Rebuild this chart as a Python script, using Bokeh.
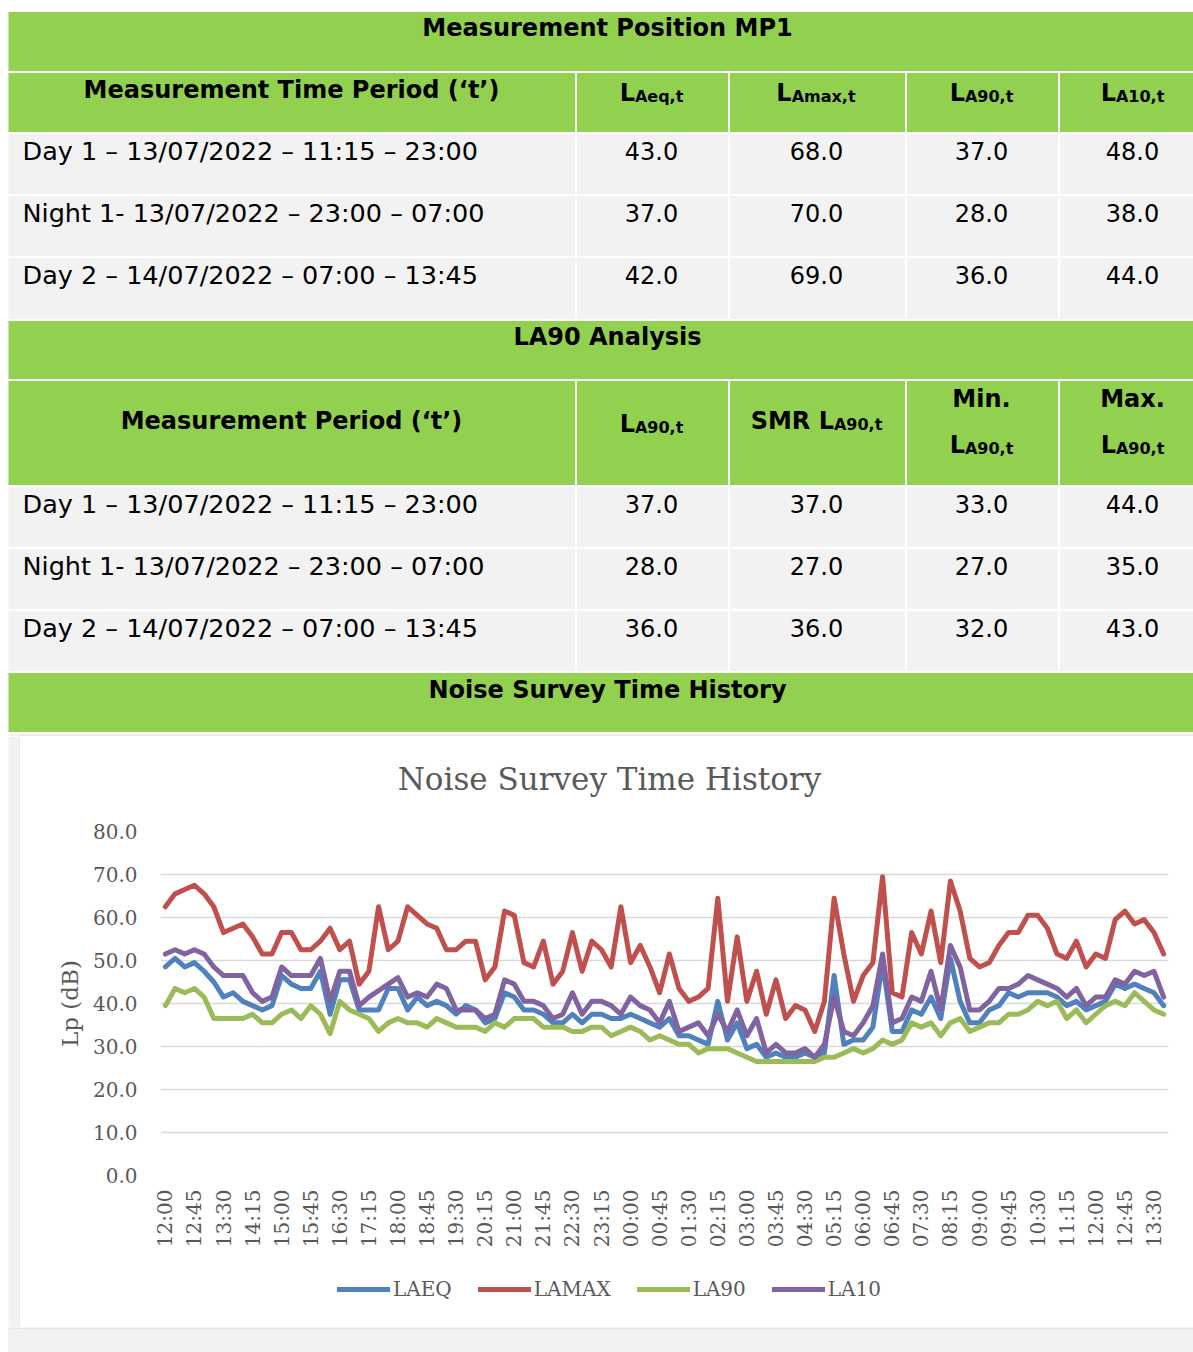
import math
from bokeh.plotting import figure
from bokeh.models import Range1d, FixedTicker, Legend, LegendItem, ColumnDataSource, NumeralTickFormatter
from bokeh.layouts import column, row
from bokeh.embed import file_html
from bokeh.resources import INLINE
from bokeh.core.properties import value

# ---------------- data ----------------
periods = ["Day 1 \u2013 13/07/2022 \u2013 11:15 \u2013 23:00",
           "Night 1- 13/07/2022 \u2013 23:00 \u2013 07:00",
           "Day 2 \u2013 14/07/2022 \u2013 07:00 \u2013 13:45"]
laeq_t = [43.0, 37.0, 42.0]
lamax_t = [68.0, 70.0, 69.0]
la90_t = [37.0, 28.0, 36.0]
la10_t = [48.0, 38.0, 44.0]

an_la90 = [37.0, 28.0, 36.0]
an_smr = [37.0, 27.0, 36.0]
an_min = [33.0, 27.0, 32.0]
an_max = [44.0, 35.0, 43.0]

tick_labels = ["12:00", "12:45", "13:30", "14:15", "15:00", "15:45", "16:30", "17:15", "18:00",
               "18:45", "19:30", "20:15", "21:00", "21:45", "22:30", "23:15", "00:00", "00:45",
               "01:30", "02:15", "03:00", "03:45", "04:30", "05:15", "06:00", "06:45", "07:30",
               "08:15", "09:00", "09:45", "10:30", "11:15", "12:00", "12:45", "13:30"]

LAEQ = [48.5, 50.5, 48.5, 49.5, 47.5, 45.0, 41.5, 42.5, 40.5, 39.5,
        38.5, 39.5, 46.5, 44.5, 43.5, 43.5, 47.5, 37.5, 45.5, 45.5,
        38.5, 38.5, 38.5, 43.5, 43.5, 38.5, 41.5, 39.5, 40.5, 39.5,
        37.5, 39.5, 38.5, 35.5, 36.5, 42.5, 41.5, 38.5, 38.5, 37.5,
        35.5, 35.5, 37.5, 35.5, 37.5, 37.5, 36.5, 36.5, 37.5, 36.5,
        35.5, 34.5, 36.5, 32.5, 32.5, 31.5, 30.5, 40.5, 31.5, 35.5,
        29.5, 30.5, 27.5, 28.5, 27.5, 27.5, 28.5, 27.5, 28.5, 46.5,
        30.5, 31.5, 31.5, 34.5, 49.5, 33.5, 33.5, 38.5, 37.5, 41.5,
        36.5, 50.5, 40.5, 35.5, 35.5, 38.5, 39.5, 42.5, 41.5, 42.5,
        42.5, 42.5, 41.5, 39.5, 40.5, 38.5, 39.5, 40.5, 44.5, 43.5,
        44.5, 43.5, 42.5, 39.5]

LAMAX = [62.5, 65.5, 66.5, 67.5, 65.5, 62.5, 56.5, 57.5, 58.5, 55.5,
         51.5, 51.5, 56.5, 56.5, 52.5, 52.5, 54.5, 57.5, 52.5, 54.5,
         44.5, 47.5, 62.5, 52.5, 54.5, 62.5, 60.5, 58.5, 57.5, 52.5,
         52.5, 54.5, 54.5, 45.5, 48.5, 61.5, 60.5, 49.5, 48.5, 54.5,
         44.5, 47.5, 56.5, 47.5, 54.5, 52.5, 48.5, 62.5, 49.5, 53.5,
         48.5, 42.5, 51.5, 43.5, 40.5, 41.5, 43.5, 64.5, 40.5, 55.5,
         40.5, 47.5, 37.5, 45.5, 36.5, 39.5, 38.5, 33.5, 40.5, 64.5,
         51.5, 40.5, 46.5, 49.5, 69.5, 42.5, 41.5, 56.5, 51.5, 61.5,
         49.5, 68.5, 61.5, 50.5, 48.5, 49.5, 53.5, 56.5, 56.5, 60.5,
         60.5, 57.5, 51.5, 50.5, 54.5, 48.5, 51.5, 50.5, 59.5, 61.5,
         58.5, 59.5, 56.5, 51.5]

LA90 = [39.5, 43.5, 42.5, 43.5, 41.5, 36.5, 36.5, 36.5, 36.5, 37.5,
        35.5, 35.5, 37.5, 38.5, 36.5, 39.5, 37.5, 33.0, 40.5, 38.5,
        37.5, 36.5, 33.5, 35.5, 36.5, 35.5, 35.5, 34.5, 36.5, 35.5,
        34.5, 34.5, 34.5, 33.5, 35.5, 34.5, 36.5, 36.5, 36.5, 34.5,
        34.5, 34.5, 33.5, 33.5, 34.5, 34.5, 32.5, 33.5, 34.5, 33.5,
        31.5, 32.5, 31.5, 30.5, 30.5, 28.5, 29.5, 29.5, 29.5, 28.5,
        27.5, 26.5, 26.5, 26.5, 26.5, 26.5, 26.5, 26.5, 27.5, 27.5,
        28.5, 29.5, 28.5, 29.5, 31.5, 30.5, 31.5, 35.5, 34.5, 35.5,
        32.5, 35.5, 36.5, 33.5, 34.5, 35.5, 35.5, 37.5, 37.5, 38.5,
        40.5, 39.5, 40.5, 36.5, 38.5, 35.5, 37.5, 39.5, 40.5, 39.5,
        42.5, 40.5, 38.5, 37.5]

LA10 = [51.5, 52.5, 51.5, 52.5, 51.5, 48.5, 46.5, 46.5, 46.5, 42.5,
        40.5, 41.5, 48.5, 46.5, 46.5, 46.5, 50.5, 40.5, 47.5, 47.5,
        39.5, 41.5, 43.0, 44.5, 46.0, 41.5, 42.5, 41.5, 44.5, 43.5,
        38.5, 38.5, 38.5, 36.5, 37.5, 45.5, 44.5, 40.5, 40.5, 39.5,
        36.5, 37.5, 42.5, 37.5, 40.5, 40.5, 39.5, 37.5, 41.5, 39.5,
        38.5, 35.5, 40.5, 33.5, 34.5, 35.5, 32.5, 37.5, 33.5, 38.5,
        32.5, 36.5, 28.5, 30.5, 28.5, 28.5, 29.5, 27.5, 30.5, 41.5,
        33.5, 32.5, 35.5, 39.5, 51.5, 35.5, 36.5, 41.5, 40.5, 47.5,
        38.5, 53.5, 48.5, 38.5, 38.5, 40.5, 43.5, 43.5, 44.5, 46.5,
        45.5, 44.5, 43.5, 41.5, 43.5, 39.5, 41.5, 41.5, 45.5, 44.5,
        47.5, 46.5, 47.5, 41.5]

series_names = ["LAEQ", "LAMAX", "LA90", "LA10"]
chart_title = "Noise Survey Time History"

# ---------------- styling ----------------
GREEN = "#92D050"
GRAY = "#F2F2F2"
EDGE = "#D9D9D9"
TXT = "#595959"
SANS = "DejaVu Sans"
SERIF = "DejaVu Serif"
COLORS = ["#4F81BD", "#C0504D", "#9BBB59", "#8064A2"]
PW = 1193

# ---------------- tables figure ----------------
T = figure(width=PW, height=736, x_range=Range1d(0, PW), y_range=Range1d(736, 0),
           output_backend="svg", toolbar_location=None, min_border=0,
           x_axis_location=None, y_axis_location=None,
           background_fill_color="white", border_fill_color="white", outline_line_color=None)
T.grid.visible = False

cols = [(8, 574.5), (576.5, 727.5), (729.5, 904.5), (906.5, 1057.5), (1059.5, PW)]
title_rows = [(11.5, 70.5), (320.5, 378.5), (672.5, 731.5)]
head_rows = [(72.5, 131.5), (380.5, 484.5)]
data_rows = [(133.5, 193.5), (195.5, 255.5), (257.5, 318.5),
             (486.5, 546.5), (548.5, 608.5), (610.5, 670.5)]

L, R, TP, BT, C = [], [], [], [], []
for (t, b) in title_rows:
    L.append(8); R.append(PW); TP.append(t); BT.append(b); C.append(GREEN)
for (t, b) in head_rows:
    for (l, r) in cols:
        L.append(l); R.append(r); TP.append(t); BT.append(b); C.append(GREEN)
for (t, b) in data_rows:
    for (l, r) in cols:
        L.append(l); R.append(r); TP.append(t); BT.append(b); C.append(GRAY)
# top of the grey chart frame
L += [8, 20, 8]; R += [PW, PW, 20]; TP += [733, 735, 735]; BT += [736, 736, 736]
C += [GRAY, EDGE, GRAY]
T.quad(left=L, right=R, top=TP, bottom=BT, fill_color=C, line_color=None)

# bold centred headings (y = visual centre of capitals)
bx, by, bt = [], [], []
for txt, x, y in [("Measurement Position MP1", 607, 27),
                  ("Measurement Time Period (\u2018t\u2019)", 291, 89),
                  ("LA90 Analysis", 607, 336),
                  ("Measurement Period (\u2018t\u2019)", 291, 420),
                  ("Min.", 981, 398), ("Max.", 1132, 398),
                  ("Noise Survey Time History", 607, 689)]:
    bx.append(x); by.append(y); bt.append(txt)
T.text(x=bx, y=by, text=bt, text_align="center", text_baseline="alphabetic",
       text_font=value(SANS), text_font_style="bold", text_font_size="24px", text_color="black")

# L-subscript headings
BW = {'L': .637, 'A': .774, 'e': .678, 'q': .716, ',': .380, 't': .478, 'm': 1.042,
      'a': .675, 'x': .712, '9': .696, '0': .696, '1': .696, 'S': .720, 'M': .995,
      'R': .770, ' ': .348}
mx, my, mt, sx, sy, st = [], [], [], [], [], []
for cx, base, main, sub in [(651, 92, "L", "Aeq,t"), (816, 92, "L", "Amax,t"),
                            (981, 92, "L", "A90,t"), (1132, 92, "L", "A10,t"),
                            (651, 423, "L", "A90,t"), (816, 420, "SMR L", "A90,t"),
                            (981, 444, "L", "A90,t"), (1132, 444, "L", "A90,t")]:
    wm = sum(BW.get(c, .7) for c in main) * 24
    ws = sum(BW.get(c, .7) for c in sub) * 16
    x0 = cx - (wm + ws) / 2
    mx.append(x0); my.append(base); mt.append(main)
    sx.append(x0 + wm); sy.append(base + 4); st.append(sub)
T.text(x=mx, y=my, text=mt, text_align="left", text_baseline="alphabetic",
       text_font=value(SANS), text_font_style="bold", text_font_size="24px", text_color="black")
T.text(x=sx, y=sy, text=st, text_align="left", text_baseline="alphabetic",
       text_font=value(SANS), text_font_style="bold", text_font_size="16px", text_color="black")

# data cells
base1 = [150, 212, 274]
base2 = [503, 565, 627]
T.text(x=[22] * 6, y=base1 + base2, text=periods + periods, text_align="left",
       text_baseline="alphabetic", text_font=value(SANS), text_font_size="25.5px", text_color="black")
vx, vy, vt = [], [], []
centers = [651, 816, 981, 1132]
for bases, cols_vals in [(base1, [laeq_t, lamax_t, la90_t, la10_t]),
                         (base2, [an_la90, an_smr, an_min, an_max])]:
    for ci, vals in enumerate(cols_vals):
        for ri, v in enumerate(vals):
            vx.append(centers[ci]); vy.append(bases[ri]); vt.append(f"{v:.1f}")
T.text(x=vx, y=vy, text=vt, text_align="center", text_baseline="alphabetic",
       text_font=value(SANS), text_font_size="24px", text_color="black")

# ---------------- chart title strip (frame aligned with the chart's) ----------------
TH = 85
TT = figure(width=PW - 20, height=TH, x_range=Range1d(0, 1008), y_range=Range1d(TH, 0),
            output_backend="svg", toolbar_location=None, min_border=0,
            x_axis_location=None, y_axis_location=None, outline_line_color=None,
            background_fill_color="white", border_fill_color="white")
TT.grid.visible = False
TT.text(x=[449], y=[42], text=[chart_title], text_align="center", text_baseline="alphabetic",
        text_font=value(SERIF), text_font_size="31px", text_color=TXT)

# ---------------- chart ----------------
n = len(LAEQ)
src = ColumnDataSource(dict(x=list(range(n)), laeq=LAEQ, lamax=LAMAX, la90=LA90, la10=LA10))

CH = 434
P = figure(width=PW - 20, height=CH, x_range=Range1d(-0.5, n - 0.5), y_range=Range1d(0, 80),
           output_backend="svg", toolbar_location=None,
           min_border_left=140, min_border_right=25, min_border_top=10, min_border_bottom=80,
           background_fill_color="white", border_fill_color="white", outline_line_color=None)

P.xgrid.visible = False
P.ygrid.grid_line_color = EDGE
P.ygrid.grid_line_width = 1.5

P.yaxis.ticker = FixedTicker(ticks=[0, 10, 20, 30, 40, 50, 60, 70, 80])
P.yaxis.formatter = NumeralTickFormatter(format="0.0")
P.yaxis.axis_label = "Lp (dB)"
P.yaxis.axis_label_text_font = SERIF
P.yaxis.axis_label_text_font_size = "23px"
P.yaxis.axis_label_text_font_style = "normal"
P.yaxis.axis_label_text_color = TXT
P.yaxis.axis_label_standoff = 7
P.yaxis.major_label_standoff = 17

tick_pos = list(range(0, n, 3))
P.xaxis.ticker = FixedTicker(ticks=tick_pos)
P.xaxis.major_label_overrides = {p: lab for p, lab in zip(tick_pos, tick_labels)}
P.xaxis.major_label_orientation = math.pi / 2
P.xaxis.major_label_standoff = 8

for ax in (P.xaxis[0], P.yaxis[0]):
    ax.axis_line_color = None
    ax.major_tick_line_color = None
    ax.minor_tick_line_color = None
    ax.major_label_text_font = SERIF
    ax.major_label_text_font_size = "20px"
    ax.major_label_text_color = TXT

for key, col in zip(["laeq", "lamax", "la90", "la10"], COLORS):
    P.line(x="x", y=key, source=src, line_color=col, line_width=5,
           line_join="round", line_cap="round")

# legend strip below the chart (inside the same white box); its frame is aligned with P's
LH = 72
LG = figure(width=PW - 20, height=LH, x_range=Range1d(0, 1), y_range=Range1d(0, 1),
            output_backend="svg", toolbar_location=None, min_border=0,
            x_axis_location=None, y_axis_location=None, outline_line_color=None,
            background_fill_color="white", border_fill_color="white")
LG.grid.visible = False
items = []
for lab, col in zip(series_names, COLORS):
    # proxy renderers (kept outside the visible range) that give the legend its swatches
    r = LG.line(x=[-2, -3], y=[-2, -3], line_color=col, line_width=5, line_cap="round")
    items.append(LegendItem(label=lab, renderers=[r]))
leg = Legend(items=items, orientation="horizontal", location=(177, 26),
             glyph_width=53, glyph_height=20, label_standoff=3, spacing=26,
             padding=0, margin=0, border_line_color=None, background_fill_alpha=0,
             label_text_font=SERIF, label_text_font_size="20px", label_text_color=TXT)
LG.add_layout(leg)

# grey surroundings of the chart box
S = figure(width=20, height=TH + CH + LH, x_range=Range1d(0, 20), y_range=Range1d(0, 1),
           output_backend="svg", toolbar_location=None, min_border=0,
           x_axis_location=None, y_axis_location=None, outline_line_color=None,
           background_fill_color="white", border_fill_color="white")
S.grid.visible = False
S.quad(left=[8, 19], right=[19, 20], top=[1, 1], bottom=[0, 0], fill_color=[GRAY, EDGE], line_color=None)

B = figure(width=PW, height=25, x_range=Range1d(0, PW), y_range=Range1d(25, 0),
           output_backend="svg", toolbar_location=None, min_border=0,
           x_axis_location=None, y_axis_location=None, outline_line_color=None,
           background_fill_color="white", border_fill_color="white")
B.grid.visible = False
B.quad(left=[8, 8], right=[PW, 20], top=[0, 0], bottom=[25, 1], fill_color=[EDGE, GRAY], line_color=None)
B.quad(left=[8], right=[PW], top=[1], bottom=[25], fill_color=GRAY, line_color=None)

page = column(T, row(S, column(TT, P, LG)), B)
open("out.html", "w").write(file_html(page, INLINE))
